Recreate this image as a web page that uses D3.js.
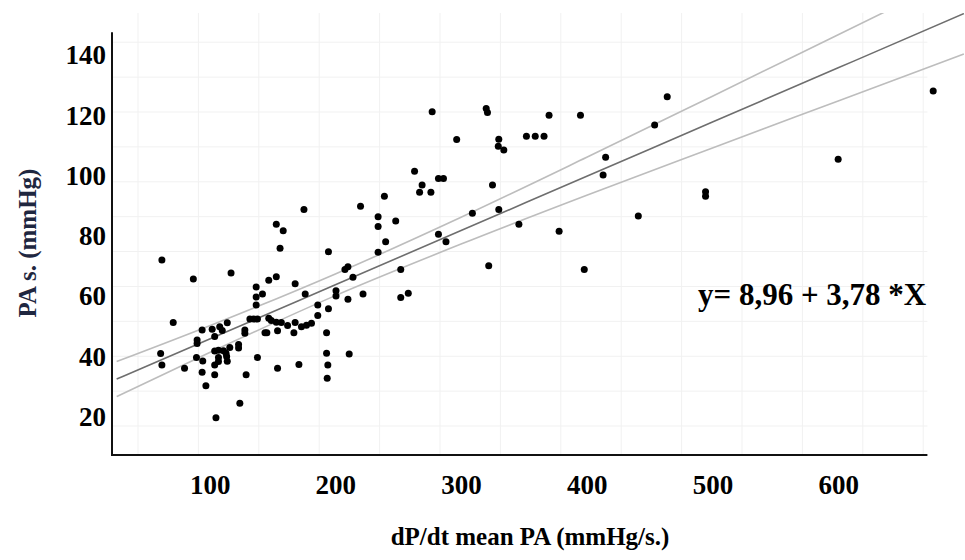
<!DOCTYPE html>
<html>
<head>
<meta charset="utf-8">
<script src="https://cdn.jsdelivr.net/npm/d3@7"></script>
<style>
  body { margin: 0; background: #fff; }
  svg { display: block; }
</style>
</head>
<body>
<div id="chart"></div>
<script>
const xTicks = [100, 200, 300, 400, 500, 600]
const yTicks = [20, 40, 60, 80, 100, 120, 140]
const xTitle = 'dP/dt mean PA (mmHg/s.)'
const yTitle = 'PA s. (mmHg)'
const equation = 'y= 8,96 + 3,78 *X'

// scatter values
const pointsX = [62, 87, 71, 61, 62, 80, 90, 90, 89.5, 94, 94.5, 94, 97, 102, 104, 105, 104, 107, 111, 113,
    104, 107, 114, 104, 108, 114, 110, 116, 123, 123, 117, 124, 129, 128, 128, 135, 138, 137, 142, 137,
    137, 138, 147, 153, 147, 149, 144, 145.5, 153, 157, 162, 154, 168, 168, 173, 177, 181, 167, 171, 154,
    176, 175, 153, 158.5, 156, 194.5, 186, 186, 194.5, 193, 193, 194, 193.5, 200.5, 200.5, 207.6, 210, 214, 222, 210,
    252, 258, 252, 234, 240, 234, 234, 248, 220, 239, 263, 269, 267, 276, 282, 286, 277, 296.5, 320, 321,
    325, 330, 329.6, 334, 352, 359, 366, 370, 395, 309, 330, 346, 282, 288, 322, 378, 398, 413, 415, 454,
    464, 441, 494.5, 494.5, 600, 675.6, 113.5, 107, 132, 211]
const pointsY = [72, 65.7, 51.3, 41, 37.2, 36.1, 45.5, 44.3, 39.7, 48.8, 38.5, 34.8, 30.3, 49, 46.6, 19.7, 41.8, 42.1, 41.9, 41.1,
    37.2, 38.3, 38.4, 33.9, 49.9, 51.2, 48.6, 43, 44, 42.8, 67.7, 24.5, 33.9, 48.8, 47.7, 52.4, 52.4, 63.1, 60.7, 59.7,
    57.1, 39.7, 65.3, 66.5, 52.7, 51.9, 47.9, 47.9, 51.4, 51.3, 50.3, 48.5, 64.1, 51.3, 49.9, 50.4, 51, 47.9, 37.3, 36.1,
    60.7, 88.8, 83.9, 81.7, 75.9, 74.8, 57.1, 53.6, 55.8, 47.9, 41.1, 37.2, 32.8, 61.8, 60.1, 68.9, 69.8, 66.3, 60.7, 59,
    68.9, 61, 59.6, 74.6, 78.1, 86.4, 83.1, 85, 89.9, 93.2, 101.5, 96.9, 94.5, 94.5, 99.1, 99.1, 121.2, 112, 122.3, 121,
    96.9, 112.1, 109.8, 108.5, 113.1, 113.1, 113.1, 120.1, 120.1, 87.5, 88.8, 83.9, 80.6, 78.1, 70.1, 81.6, 68.9, 100.2, 106.1, 116.8,
    126.2, 86.6, 94.7, 93.2, 105.5, 128.1, 40, 39.7, 52.4, 40.8]

// regression line and its confidence band, read at a few x positions
const fitX = [26, 100, 200, 300, 400, 500, 600, 700]
const fitMid = [32.5, 45.8, 63.8, 81.8, 99.8, 117.8, 135.8, 153.8]
const fitUpper = [38.3, 50.2, 67.4, 86.2, 106.1, 126.4, 146.8, 167.2]
const fitLower = [26.7, 41.3, 60.2, 77.3, 93.5, 109.2, 124.8, 140.4]

const width = 965, height = 560
const plot = { left: 112, right: 965, top: 13, bottom: 455 }
const font = '"Liberation Serif", "Times New Roman", serif'

const svg = d3.select('#chart')
    .append('svg')
    .attr('width', width)
    .attr('height', height)

const x = d3.scaleLinear()
    .domain([22.3, 700.9])
    .range([plot.left, plot.right])

const y = d3.scaleLinear()
    .domain([7.3, 154])
    .range([plot.bottom, plot.top])

svg.append('clipPath').attr('id', 'clip')
    .append('rect')
    .attr('x', plot.left).attr('y', plot.top)
    .attr('width', plot.right - plot.left).attr('height', plot.bottom - plot.top)

// faint background grid
const grid = svg.append('g').attr('stroke', '#f1f1f1').attr('stroke-width', 1)
grid.selectAll('line.v')
    .data(d3.range(43, 700, 48.05))
    .join('line')
    .attr('class', 'v')
    .attr('x1', d => x(d)).attr('x2', d => x(d))
    .attr('y1', plot.top).attr('y2', plot.bottom)
grid.selectAll('line.h')
    .data(d3.range(144.3, 8, -11.58))
    .join('line')
    .attr('class', 'h')
    .attr('x1', plot.left).attr('x2', x(671))
    .attr('y1', d => y(d)).attr('y2', d => y(d))

// fit lines
const lines = svg.append('g').attr('clip-path', 'url(#clip)').attr('fill', 'none')
const lineOf = vals => d3.line()
    .x((d, i) => x(fitX[i]))
    .y(d => y(d))
    .curve(d3.curveMonotoneX)(vals)

lines.append('path').attr('d', lineOf(fitUpper)).attr('stroke', '#bdbdbd').attr('stroke-width', 1.6)
lines.append('path').attr('d', lineOf(fitLower)).attr('stroke', '#bdbdbd').attr('stroke-width', 1.6)
lines.append('path').attr('d', lineOf(fitMid)).attr('stroke', '#6e6e6e').attr('stroke-width', 1.6)

// points
svg.append('g')
    .attr('fill', '#000')
    .selectAll('circle')
    .data(pointsX)
    .join('circle')
    .attr('cx', d => x(d))
    .attr('cy', (d, i) => y(pointsY[i]))
    .attr('r', 3.5)

// axes
svg.append('g')
    .attr('transform', `translate(0,${plot.bottom})`)
    .call(d3.axisBottom(x).tickValues(xTicks).tickSize(0).tickPadding(20))
    .call(g => g.select('.domain').remove())
    .call(g => g.selectAll('text')
        .attr('font-family', font).attr('font-weight', 'bold')
        .attr('font-size', 27).attr('fill', '#000'))

svg.append('g')
    .attr('transform', `translate(${plot.left},0)`)
    .call(d3.axisLeft(y).tickValues(yTicks).tickSize(0).tickPadding(6))
    .call(g => g.select('.domain').remove())
    .call(g => g.selectAll('text')
        .attr('font-family', font).attr('font-weight', 'bold')
        .attr('font-size', 27).attr('fill', '#000'))

svg.append('line')
    .attr('x1', plot.left).attr('x2', plot.left)
    .attr('y1', y(147.6)).attr('y2', plot.bottom)
    .attr('stroke', '#111').attr('stroke-width', 2)
svg.append('line')
    .attr('x1', plot.left - 1).attr('x2', x(671))
    .attr('y1', plot.bottom).attr('y2', plot.bottom)
    .attr('stroke', '#111').attr('stroke-width', 2)

// titles
svg.append('text')
    .attr('x', 530).attr('y', 545)
    .attr('text-anchor', 'middle')
    .attr('font-family', font).attr('font-weight', 'bold').attr('font-size', 25)
    .text(xTitle)

svg.append('text')
    .attr('transform', 'translate(36,243) rotate(-90)')
    .attr('text-anchor', 'middle')
    .attr('font-family', font).attr('font-weight', 'bold').attr('font-size', 25)
    .attr('fill', '#1f2740')
    .text(yTitle)

svg.append('text')
    .attr('x', 698).attr('y', 305)
    .attr('font-family', font).attr('font-weight', 'bold').attr('font-size', 31)
    .text(equation)
</script>
</body>
</html>
